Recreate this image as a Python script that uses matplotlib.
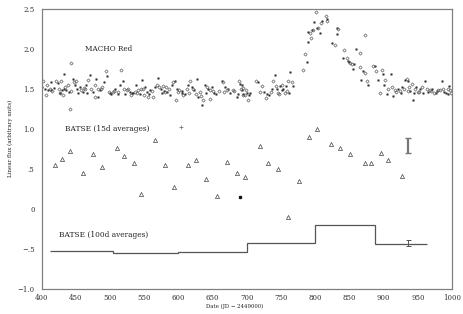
import matplotlib
matplotlib.use("Agg")
import matplotlib.pyplot as plt
import numpy as np

# ---------------- data ----------------
macho_x = [401, 402, 405.6, 408.5, 409.5, 412, 413.4, 407, 414.3, 421.6, 424, 425, 426.6, 429, 430,
           431.4, 432.9, 434.8, 436.3, 438.7, 439.7, 443.6, 446, 447.5, 448.5, 450.9, 452.3, 441.7,
           455.8, 458.2, 460.7, 463.1, 465.5, 468, 470.4, 472.8, 475.3, 477.7, 480.1, 482.6, 485,
           477.7, 482.6, 488.4, 491.3, 494.7, 496.2, 498.2, 501.1, 504.5, 507.9, 511.8, 514.3, 516.6,
           519.1, 520.6, 522.5, 525.4, 528.9, 531.3, 533.7, 536.2, 538.6, 541, 543.5, 545.9,
           546.4, 548.8, 551.3, 549.8, 553.7, 556.1, 558.6, 563.4, 565.9, 568.4, 570.8, 572.2, 574.3,
           577.2, 579, 582, 583.9, 586.8, 590.3, 592.7, 595.1, 596.6, 598.5, 601.4, 604.9, 607.3,
           609.7, 612.2, 614.6, 617, 619.5, 621.9, 626.8, 625.8, 629.2, 631.7, 634.1, 635.6, 639,
           641.5, 643.8, 646.3, 648.8, 646.3, 652.1, 659.9, 663.4, 665.7, 668.2, 670.7, 673, 679.4,
           685.3, 689.1, 690.1, 691.1, 692.6, 694.9,
           692.6, 694, 695, 697.4, 699.9, 702.2, 703.7, 713.5, 716.9, 721.8, 725.2, 728.1, 730, 735,
           736.5, 738.8, 741.3, 742.7, 744.6, 747.6, 748.6, 751.1, 753.4, 755.9, 757.4, 760.7, 763.2,
           765.7, 768, 782.6, 787.6, 785.1, 790, 793.5, 790, 792.4, 794.9, 797.3, 798.3, 801.2, 803.1,
           804.6, 807, 808.1, 809.5, 815.8, 816.8, 817.7, 824.1, 829, 831.4, 833.8, 831.4, 842.1,
           841.1, 846, 849.9, 872.8, 859.7, 865.5, 856.7, 850.9,
           848.4, 853.4, 855.8, 865.5, 870.3, 872.8, 867, 875.3, 876.8, 884.9, 887.4, 888.5, 892.3,
           898.1, 899.6, 902, 901, 906.9, 910.8, 911.8, 914.3, 916.7, 920.6, 924, 927.3, 930.3, 931.3,
           933.8, 935.2, 937.1, 938.6, 941.1, 943.4, 945.9, 946.9, 949.8, 953.2, 956.6, 960.5, 963,
           965.3, 967.8, 971.2, 974.1, 977.6, 979.9, 984.9, 987.2, 990.7, 993.7, 995.6, 997, 994.5,
           415.5, 418, 427.5, 433.5, 442.5, 453.5, 461.5, 467, 486.5, 499.5, 506, 512.5, 527, 532.5,
           540, 557.5, 561, 576, 580.5, 588, 600, 606, 615.5, 623, 632.5, 640, 650, 655, 667, 676,
           682, 687, 698.5, 705, 719, 733, 746, 752, 759, 762, 895, 905, 918.5, 926, 936, 944.5,
           951.5, 958, 969.5, 976, 982.5, 989, 999]
macho_y = [1.52, 1.59, 1.50, 1.55, 1.48, 1.50, 1.585, 1.42, 1.48, 1.59, 1.57, 1.50, 1.45, 1.59, 1.48,
           1.42, 1.68, 1.52, 1.48, 1.55, 1.46, 1.815, 1.62, 1.585, 1.54, 1.59, 1.50, 1.24,
           1.52, 1.48, 1.46, 1.50, 1.54, 1.61, 1.67, 1.50, 1.46, 1.55, 1.62, 1.50, 1.48,
           1.40, 1.39, 1.52, 1.585, 1.72, 1.66, 1.46, 1.43, 1.46, 1.50, 1.46, 1.55, 1.73,
           1.60, 1.50, 1.43, 1.48, 1.46, 1.42, 1.44, 1.46, 1.54, 1.48, 1.43, 1.50,
           1.61, 1.50, 1.52, 1.42, 1.46, 1.39, 1.48, 1.39, 1.52, 1.54, 1.635, 1.52, 1.50,
           1.53, 1.47, 1.52, 1.46, 1.50, 1.55, 1.585, 1.60, 1.355, 1.50, 1.48, 1.45, 1.42,
           1.43, 1.50, 1.55, 1.59, 1.52, 1.50, 1.62, 1.43, 1.39, 1.46, 1.29, 1.355, 1.55,
           1.52, 1.50, 1.48, 1.52, 1.37, 1.44, 1.47, 1.60, 1.585, 1.52, 1.48, 1.50, 1.48,
           1.40, 1.60, 1.56, 1.50, 1.48, 1.42,
           1.545, 1.51, 1.43, 1.42, 1.44, 1.355, 1.42, 1.59, 1.585, 1.53, 1.46, 1.38, 1.43, 1.46,
           1.49, 1.59, 1.67, 1.53, 1.50, 1.43, 1.53, 1.55, 1.50, 1.44, 1.53, 1.59, 1.71,
           1.585, 1.53, 1.73, 1.835, 1.93, 2.08, 2.13, 2.21, 2.19, 2.23, 2.23, 2.33, 2.46, 2.26,
           2.26, 2.19, 2.315, 2.35, 2.41, 2.37, 2.34, 2.065, 2.04, 2.26, 2.25, 2.18, 1.98,
           1.885, 1.88, 1.835, 2.17, 2.0, 1.94, 1.806, 1.82,
           1.84, 1.81, 1.75, 1.77, 1.72, 1.70, 1.61, 1.60, 1.55, 1.785, 1.78, 1.72, 1.61,
           1.73, 1.68, 1.61, 1.54, 1.49, 1.68, 1.52, 1.41, 1.48, 1.50, 1.47, 1.52, 1.50, 1.61,
           1.625, 1.59, 1.52, 1.47, 1.555, 1.355, 1.50, 1.52, 1.46, 1.50, 1.52, 1.60, 1.50,
           1.46, 1.48, 1.50, 1.45, 1.47, 1.48, 1.60, 1.50, 1.45, 1.50, 1.53, 1.48, 1.43,
           1.47, 1.51, 1.44, 1.49, 1.47, 1.45, 1.51, 1.44, 1.49, 1.45, 1.47, 1.43, 1.50, 1.44,
           1.45, 1.43, 1.47, 1.44, 1.46, 1.42, 1.46, 1.47, 1.44, 1.48, 1.41, 1.45, 1.47, 1.43,
           1.46, 1.44, 1.47, 1.43, 1.48, 1.45, 1.46, 1.42, 1.45, 1.48, 1.47, 1.44, 1.45, 1.43,
           1.46, 1.44, 1.47, 1.45, 1.46, 1.44, 1.47, 1.45, 1.48, 1.46, 1.44]

batse15_x = [419.7, 430.4, 441.7, 461.1, 475.3, 488.4, 509.9, 520.6, 535.2, 545, 565.9, 580.5, 593.7,
             614.6, 625.4, 640.9, 656, 670.7, 685.3, 697.4, 719.4, 731, 745.7, 760.7, 775.9, 791,
             802.2, 823.7, 835.8, 851.5, 872.4, 881.2, 895.8, 906.4, 927.3]
batse15_y = [0.553, 0.619, 0.719, 0.447, 0.681, 0.523, 0.765, 0.66, 0.569, 0.181, 0.865, 0.548, 0.273,
             0.548, 0.61, 0.369, 0.156, 0.59, 0.447, 0.397, 0.781, 0.573, 0.50, -0.10, 0.344, 0.898,
             0.994, 0.815, 0.76, 0.681, 0.573, 0.573, 0.70, 0.606, 0.406]
batse15_plus_x = [604.3]
batse15_plus_y = [1.02]
batse15_dot_x = [689.7]
batse15_dot_y = [0.148]
err15_x, err15_y, err15_e = 936, 0.79, 0.088

batse100_edges = [413, 504, 600, 700, 800, 888, 963]
batse100_vals = [-0.52, -0.55, -0.535, -0.42, -0.20, -0.435]
err100_x, err100_y, err100_e = 936, -0.43, 0.037

yticks = [2.5, 2.0, 1.5, 1.0, 0.5, 0.0, -0.5, -1.0]
yticklabels = ["2.5", "2.0", "1.5", "1.0", ".5", "0", "\u2212.5", "\u22121.0"]
xticks = [400, 450, 500, 550, 600, 650, 700, 750, 800, 850, 900, 950, 1000]

# ---------------- plot ----------------
plt.rcParams['font.family'] = ['DejaVu Serif']
W, H = 463, 314
fig = plt.figure(figsize=(W / 100, H / 100), dpi=100)
L, R, T, B = 41.5, 452, 8.5, 289
ax = fig.add_axes([L / W, (H - B) / H, (R - L) / W, (B - T) / H])
ax.set_xlim(400, 1000)
ax.set_ylim(-1.0, 2.5)

n = min(len(macho_x), len(macho_y))
mx = np.array(macho_x[:n])
my = np.array(macho_y[:n])
ax.plot(mx[::2], my[::2], ls='none', marker='s', ms=1.1, mfc='#333333', mec='#333333', mew=0.3)
ax.plot(mx[1::2], my[1::2], ls='none', marker='D', ms=1.7, mfc='none', mec='#555555', mew=0.45)

ax.plot(batse15_x, batse15_y, ls='none', marker='^', ms=3.0, mfc='none', mec='#444444', mew=0.5)
ax.plot(batse15_plus_x, batse15_plus_y, ls='none', marker='+', ms=2.2, mec='#666666', mew=0.5)
ax.plot(batse15_dot_x, batse15_dot_y, ls='none', marker='s', ms=1.4, mfc='#111111', mec='#111111')
ax.errorbar([err15_x], [err15_y], yerr=[err15_e], fmt='none', ecolor='#777777', elinewidth=1.6,
            capsize=2.5, capthick=1.0)

ax.stairs(batse100_vals, batse100_edges, baseline=None, color='#555555', lw=0.9)
ax.errorbar([err100_x], [err100_y], yerr=[err100_e], fmt='none', ecolor='#555555', elinewidth=0.7,
            capsize=1.8, capthick=0.7)

ax.text(463, 2.0, "MACHO Red", fontsize=5.2, color='#222222', va='center', ha='left')
ax.text(434, 1.0, "BATSE (15d averages)", fontsize=5.3, color='#222222', va='center', ha='left')
ax.text(426, -0.32, "BATSE (100d averages)", fontsize=5.3, color='#222222', va='center', ha='left')

ax.set_yticks(yticks)
ax.set_yticklabels(yticklabels)
ax.set_xticks(xticks)
ax.set_xticklabels([str(v) for v in xticks])
ax.tick_params(axis='both', length=0, labelsize=5, colors='#333333')
ax.tick_params(axis='x', pad=3.5)
ax.tick_params(axis='y', pad=5)
for s in ax.spines.values():
    s.set_color('#808080')
    s.set_linewidth(0.9)

fig.text(235 / W, 1 - 306.5 / H, "Date (JD \u2212 2449000)", fontsize=3.9, color='#222222',
         ha='center', va='center')
fig.text(10 / W, 1 - 138 / H, "Linear flux (arbitrary units)", fontsize=4.0, color='#222222',
         ha='center', va='center', rotation=90)

fig.savefig("out.png", dpi=100)
